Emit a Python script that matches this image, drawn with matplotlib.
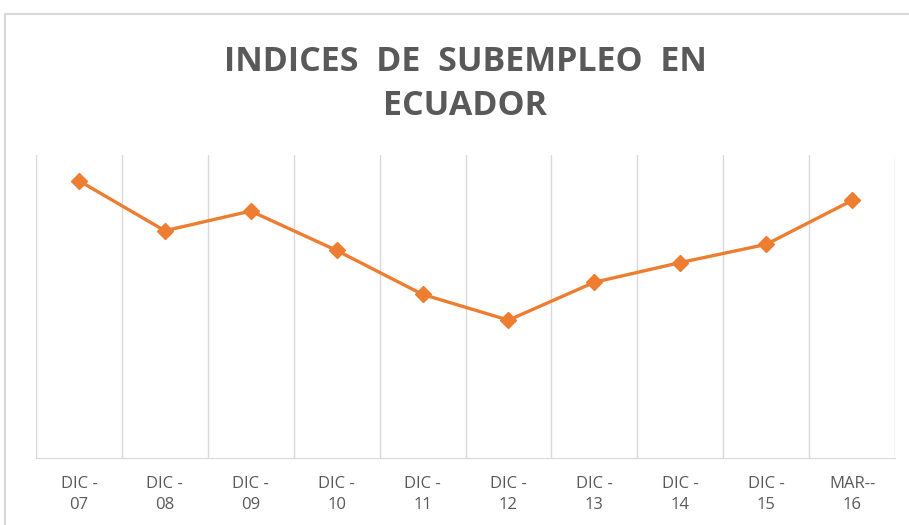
import matplotlib.pyplot as plt
from matplotlib.lines import Line2D

# Datos (valores estimados a partir del gráfico, en %)
periodos = ["DIC -\n07", "DIC -\n08", "DIC -\n09", "DIC -\n10", "DIC -\n11",
            "DIC -\n12", "DIC -\n13", "DIC -\n14", "DIC -\n15", "MAR--\n16"]
subempleo = [18.3, 15.0, 16.3, 13.7, 10.8, 9.1, 11.6, 12.9, 14.1, 17.0]

gris = "#595959"
naranja = "#ED7D31"

fig = plt.figure(figsize=(9.09, 5.25), dpi=100)
ax = fig.add_axes([36 / 909, 67 / 525, 859 / 909, 303 / 525])

x = list(range(len(periodos)))
ax.plot(x, subempleo, color=naranja, linewidth=2.4, marker="D",
        markersize=8, zorder=3)

ax.set_xlim(-0.5, len(periodos) - 0.5)
ax.set_ylim(0, 20)

# Lineas verticales entre categorias
for i in range(len(periodos) + 1):
    ax.axvline(i - 0.5, color="#d9d9d9", linewidth=1, zorder=1)

ax.set_xticks(x)
ax.set_xticklabels(periodos, fontsize=12, color=gris, family="Open Sans",
                   linespacing=1.45)
ax.tick_params(axis="x", length=0, pad=13)
ax.set_yticks([])
for lado in ["top", "right", "left"]:
    ax.spines[lado].set_visible(False)
ax.spines["bottom"].set_color("#d9d9d9")

fig.text(0.512, 0.840, "INDICES  DE  SUBEMPLEO  EN\nECUADOR", ha="center",
         va="center", fontsize=24.5, fontweight="bold", color=gris,
         family="Open Sans", linespacing=1.35)

# Borde del area del grafico
fig.add_artist(Line2D([5 / 909, 1], [1 - 14 / 525, 1 - 14 / 525],
                      color="#d9d9d9", linewidth=1.5))
fig.add_artist(Line2D([5 / 909, 5 / 909], [0, 1 - 14 / 525],
                      color="#d9d9d9", linewidth=1.5))

plt.savefig("out.png", dpi=100)
